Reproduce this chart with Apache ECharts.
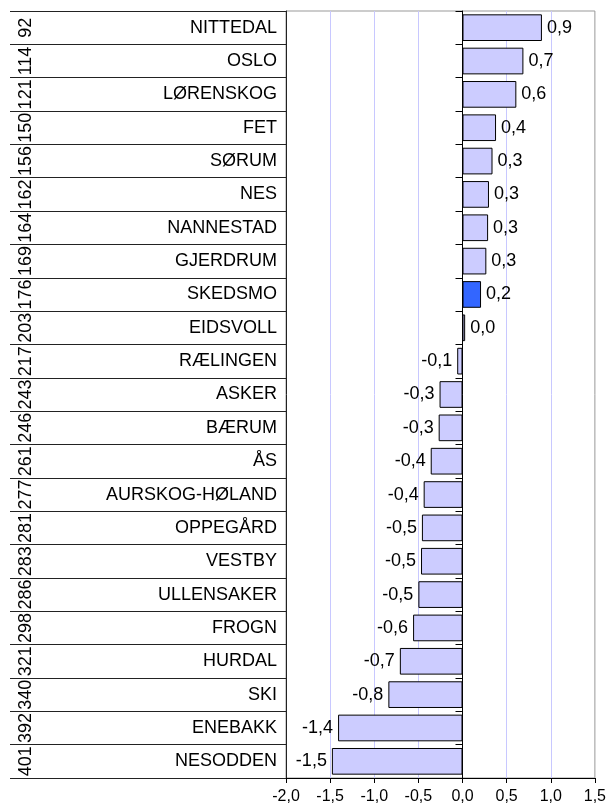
<!DOCTYPE html>
<html>
<head>
<meta charset="utf-8">
<script src="https://cdn.jsdelivr.net/npm/echarts@6/dist/echarts.min.js"></script>
<style>
  html, body { margin: 0; padding: 0; background: #fff; }
  #chart { width: 609px; height: 809px; }
</style>
</head>
<body>
<div id="chart"></div>
<script>
// kommuner, rangering og verdier (lest av figuren)
const names = ['NITTEDAL', 'OSLO', 'LØRENSKOG', 'FET', 'SØRUM', 'NES', 'NANNESTAD', 'GJERDRUM',
  'SKEDSMO', 'EIDSVOLL', 'RÆLINGEN', 'ASKER', 'BÆRUM', 'ÅS', 'AURSKOG-HØLAND', 'OPPEGÅRD',
  'VESTBY', 'ULLENSAKER', 'FROGN', 'HURDAL', 'SKI', 'ENEBAKK', 'NESODDEN']
const ranks = ['92', '114', '121', '150', '156', '162', '164', '169', '176', '203', '217', '243',
  '246', '261', '277', '281', '283', '286', '298', '321', '340', '392', '401']
const values = [0.90, 0.69, 0.61, 0.38, 0.34, 0.30, 0.29, 0.27, 0.21, 0.03, -0.06, -0.26,
  -0.27, -0.36, -0.44, -0.46, -0.47, -0.50, -0.56, -0.71, -0.84, -1.41, -1.48]
const highlight = 'SKEDSMO'
const xTicks = [-2.0, -1.5, -1.0, -0.5, 0.0, 0.5, 1.0, 1.5]

const FONT = '"Liberation Sans", Arial, sans-serif'
const fmt = v => v.toFixed(1).replace('.', ',')

const chart = echarts.init(document.getElementById('chart'), null, { renderer: 'canvas' })

const barData = values.map((v, i) => ({
  value: v,
  itemStyle: names[i] === highlight ? { color: '#3366ff' } : undefined,
  label: { position: v < 0 ? 'left' : 'right' }
}))

chart.setOption({
  animation: false,
  grid: {
    left: 286, right: 13, top: 11, bottom: 31,
    show: true, borderColor: '#999', borderWidth: 1, backgroundColor: 'transparent'
  },
  xAxis: {
    type: 'value',
    min: xTicks[0],
    max: xTicks[xTicks.length - 1],
    interval: 0.5,
    axisLine: { show: true, onZero: false, lineStyle: { color: '#000' } },
    axisTick: { show: true, length: 5, lineStyle: { color: '#000' } },
    axisLabel: { fontFamily: FONT, fontSize: 16, color: '#000', margin: 11, formatter: fmt },
    splitLine: { show: true, showMinLine: false, showMaxLine: false, lineStyle: { color: '#c8c8ff' } }
  },
  yAxis: [
    {
      // akse ved null
      type: 'category',
      data: names,
      inverse: true,
      axisLine: { show: true, onZero: true, lineStyle: { color: '#000' } },
      axisTick: { show: true, length: 7, lineStyle: { color: '#000' } },
      axisLabel: { show: false },
      splitLine: { show: false }
    },
    {
      // navnekolonne med radlinjer
      type: 'category',
      data: names,
      inverse: true,
      position: 'left',
      axisLine: { show: true, onZero: false, lineStyle: { color: '#222' } },
      axisTick: { show: true, length: 276, interval: 0, lineStyle: { color: '#222' } },
      axisLabel: { fontFamily: FONT, fontSize: 18, color: '#000', margin: 9, interval: 0 }
    },
    {
      // rangering, rotert
      type: 'category',
      data: ranks,
      inverse: true,
      position: 'left',
      offset: 251,
      axisLine: { show: false, onZero: false },
      axisTick: { show: false },
      axisLabel: { fontFamily: FONT, fontSize: 18, color: '#000', margin: 0, rotate: 90, interval: 0, hideOverlap: false }
    }
  ],
  series: [{
    type: 'bar',
    yAxisIndex: 0,
    barCategoryGap: '20%',
    itemStyle: { color: '#ccccff', borderColor: '#000', borderWidth: 1 },
    label: {
      show: true,
      distance: 5,
      fontFamily: FONT,
      fontSize: 18,
      color: '#000',
      formatter: p => fmt(p.value)
    },
    data: barData
  }]
})
</script>
</body>
</html>
